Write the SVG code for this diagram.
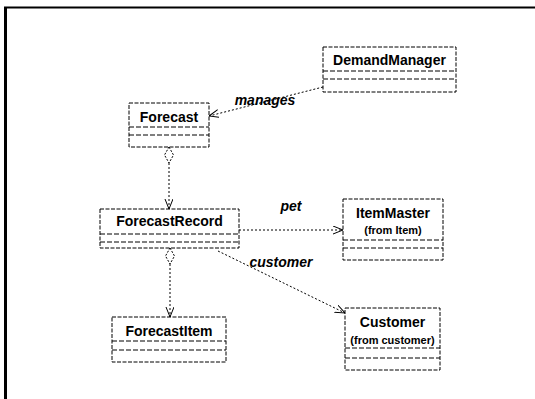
<svg xmlns="http://www.w3.org/2000/svg" width="535" height="399" viewBox="0 0 535 399">
<style>
.box{fill:#fff;stroke:#000;stroke-width:1;stroke-dasharray:4 1.5}
.sep{stroke:#000;stroke-width:1;stroke-dasharray:5 2}
.name{font-family:"Liberation Sans",Arial,sans-serif;font-weight:bold;font-size:14px;text-anchor:middle;fill:#000}
.from{font-family:"Liberation Sans",Arial,sans-serif;font-weight:bold;font-size:11px;text-anchor:middle;fill:#000}
.lbl{font-family:"Liberation Sans",Arial,sans-serif;font-weight:bold;font-style:italic;font-size:14px;text-anchor:middle;fill:#000}
.conn{fill:none;stroke:#000;stroke-width:1;stroke-dasharray:2 2}
</style>
<defs>
<marker id="arr" markerWidth="12" markerHeight="10" refX="10" refY="4" orient="auto" markerUnits="userSpaceOnUse">
<path d="M0,0 L10,4 L0,8" fill="none" stroke="#000" stroke-width="1"/>
</marker>
<marker id="dia" markerWidth="18" markerHeight="12" refX="0" refY="5" orient="auto" markerUnits="userSpaceOnUse">
<path d="M0,5 L8,0.5 L16,5 L8,9.5 Z" fill="#fff" stroke="#000" stroke-width="1" stroke-dasharray="2 1.5"/>
</marker>
</defs>
<rect width="535" height="399" fill="#fff"/>
<g id="frame">
<line x1="4" y1="7.5" x2="535" y2="7.5" stroke="#000" stroke-width="2"/>
<line x1="5.5" y1="7" x2="5.5" y2="399" stroke="#000" stroke-width="3"/>
</g>
<g id="connectors">
<path class="conn" d="M323,87 L209,116" marker-end="url(#arr)"/>
<path class="conn" d="M169,147 L169,209" marker-start="url(#dia)" marker-end="url(#arr)"/>
<path class="conn" d="M239,230 L343,230" marker-end="url(#arr)"/>
<path class="conn" d="M218,251 L345,313" marker-end="url(#arr)"/>
<path class="conn" d="M170,248 L170,317" marker-start="url(#dia)" marker-end="url(#arr)"/>
<text class="lbl" x="265" y="105">manages</text>
<text class="lbl" x="291" y="211">pet</text>
<text class="lbl" x="281" y="267">customer</text>
</g>
<g id="DemandManager">
<rect class="box" x="323" y="47" width="133" height="45"/>
<line class="sep" x1="323" y1="71" x2="456" y2="71"/>
<line class="sep" x1="323" y1="79" x2="456" y2="79"/>
<text class="name" x="389.5" y="65">DemandManager</text>
</g>
<g id="Forecast">
<rect class="box" x="129" y="103" width="80" height="44"/>
<line class="sep" x1="129" y1="127" x2="209" y2="127"/>
<line class="sep" x1="129" y1="135" x2="209" y2="135"/>
<text class="name" x="169" y="122">Forecast</text>
</g>
<g id="ForecastRecord">
<rect class="box" x="100" y="209" width="139" height="39"/>
<line class="sep" x1="100" y1="234" x2="239" y2="234"/>
<line class="sep" x1="100" y1="242" x2="239" y2="242"/>
<text class="name" x="169.5" y="226">ForecastRecord</text>
</g>
<g id="ItemMaster">
<rect class="box" x="343" y="199" width="100" height="61"/>
<line class="sep" x1="343" y1="240" x2="443" y2="240"/>
<line class="sep" x1="343" y1="248" x2="443" y2="248"/>
<text class="name" x="393" y="218">ItemMaster</text>
<text class="from" x="393" y="234">(from Item)</text>
</g>
<g id="Customer">
<rect class="box" x="345" y="308" width="95" height="62"/>
<line class="sep" x1="345" y1="348" x2="440" y2="348"/>
<line class="sep" x1="345" y1="358" x2="440" y2="358"/>
<text class="name" x="392.5" y="327">Customer</text>
<text class="from" x="392.5" y="344">(from customer)</text>
</g>
<g id="ForecastItem">
<rect class="box" x="112" y="317" width="114" height="45"/>
<line class="sep" x1="112" y1="341" x2="226" y2="341"/>
<line class="sep" x1="112" y1="350" x2="226" y2="350"/>
<text class="name" x="169" y="336">ForecastItem</text>
</g>
</svg>
